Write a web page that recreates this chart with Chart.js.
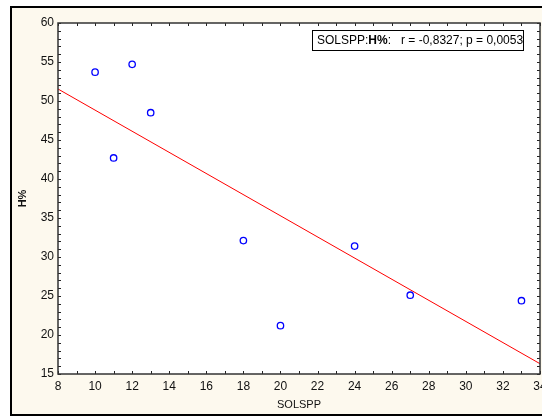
<!DOCTYPE html>
<html>
<head>
<meta charset="utf-8">
<script src="https://cdn.jsdelivr.net/npm/chart.js@4.4.1/dist/chart.umd.min.js"></script>
<style>
  html, body { margin: 0; padding: 0; background: #ffffff; }
  #wrap { width: 542px; height: 417px; }
</style>
</head>
<body>
<div id="wrap"><canvas id="c" width="542" height="417"></canvas></div>
<script>
// Observations: SOLSPP vs H%
const solspp = [10, 11, 12, 13, 18, 20, 24, 27, 33];
const hPct   = [53.7, 42.7, 54.7, 48.5, 32.1, 21.2, 31.4, 25.1, 24.4];

// Axis ranges and tick steps
const xRange = [8, 34];
const yRange = [15, 60];
const xStep = 2;
const yStep = 5;

// Correlation statistics shown in the legend box
const statLabel = ['SOLSPP:', 'H%', ':   r = -0,8327; p = 0,0053'];

// Least-squares fit of H% on SOLSPP
function linearFit(xs, ys) {
  const n = xs.length;
  const mx = xs.reduce((a, b) => a + b, 0) / n;
  const my = ys.reduce((a, b) => a + b, 0) / n;
  let sxy = 0, sxx = 0;
  for (let i = 0; i < n; i++) {
    sxy += (xs[i] - mx) * (ys[i] - my);
    sxx += (xs[i] - mx) * (xs[i] - mx);
  }
  const b = sxy / sxx;
  return { a: my - b * mx, b };
}
const fit = linearFit(solspp, hPct);
const fitLine = xRange.map(x => ({ x, y: fit.a + fit.b * x }));
const points = solspp.map((x, i) => ({ x, y: hPct[i] }));

const FONT = 'Arial, "Liberation Sans", sans-serif';
const CREAM = '#fdf9ee';

// Page background, frame and white plot area
const framePlugin = {
  id: 'frame',
  beforeDraw(chart) {
    const { ctx, chartArea: a } = chart;
    ctx.save();
    ctx.fillStyle = '#ffffff';
    ctx.fillRect(0, 0, chart.width, chart.height);
    ctx.fillStyle = CREAM;
    ctx.fillRect(11, 7, chart.width, chart.height - 9);
    ctx.strokeStyle = '#000000';
    ctx.lineWidth = 2;
    ctx.strokeRect(11, 7, chart.width + 10, chart.height - 9);
    ctx.fillStyle = '#ffffff';
    ctx.fillRect(a.left, a.top, a.right - a.left, a.bottom - a.top);
    ctx.restore();
  }
};

// Box frame around the plot with inward ticks on all four sides
const ticksPlugin = {
  id: 'inTicks',
  afterDraw(chart) {
    const { ctx, chartArea: a, scales } = chart;
    const xs = scales.x, ys = scales.y;
    const len = 3;
    ctx.save();
    ctx.strokeStyle = '#222222';
    ctx.lineWidth = 1;
    ctx.beginPath();
    for (let v = xRange[0]; v <= xRange[1]; v++) {
      const px = Math.round(xs.getPixelForValue(v)) + 0.5;
      ctx.moveTo(px, a.bottom); ctx.lineTo(px, a.bottom - len);
      ctx.moveTo(px, a.top); ctx.lineTo(px, a.top + len);
    }
    for (let v = yRange[0]; v <= yRange[1]; v++) {
      const py = Math.round(ys.getPixelForValue(v)) + 0.5;
      ctx.moveTo(a.left, py); ctx.lineTo(a.left + len, py);
      ctx.moveTo(a.right, py); ctx.lineTo(a.right - len, py);
    }
    ctx.stroke();
    ctx.lineWidth = 1.5;
    ctx.strokeStyle = '#333333';
    ctx.strokeRect(a.left, a.top, a.right - a.left, a.bottom - a.top);

    // statistics box
    const bx = a.right - 228, by = a.top + 7, bw = 211, bh = 20;
    ctx.fillStyle = '#ffffff';
    ctx.fillRect(bx, by, bw, bh);
    ctx.strokeStyle = '#000000';
    ctx.lineWidth = 1;
    ctx.strokeRect(bx + 0.5, by + 0.5, bw, bh);
    ctx.fillStyle = '#000000';
    ctx.textBaseline = 'middle';
    ctx.textAlign = 'left';
    let tx = bx + 5;
    const ty = by + bh / 2 + 1;
    ctx.font = '12px ' + FONT;
    ctx.fillText(statLabel[0], tx, ty);
    tx += ctx.measureText(statLabel[0]).width;
    ctx.font = 'bold 12px ' + FONT;
    ctx.fillText(statLabel[1], tx, ty);
    tx += ctx.measureText(statLabel[1]).width;
    ctx.font = '12px ' + FONT;
    ctx.fillText(statLabel[2], tx, ty);
    ctx.restore();
  }
};

new Chart(document.getElementById('c'), {
  type: 'scatter',
  data: {
    datasets: [
      {
        type: 'line',
        data: fitLine,
        borderColor: '#ff0000',
        borderWidth: 1,
        pointRadius: 0,
        fill: false,
        order: 2
      },
      {
        data: points,
        pointStyle: 'circle',
        pointRadius: 3.2,
        pointBorderWidth: 1.3,
        pointBorderColor: '#0000ff',
        pointBackgroundColor: 'rgba(255,255,255,0)',
        order: 1
      }
    ]
  },
  options: {
    responsive: false,
    animation: false,
    devicePixelRatio: 1,
    layout: { autoPadding: false, padding: { left: 0, right: 2, top: 23, bottom: 0 } },
    plugins: { legend: { display: false }, tooltip: { enabled: false } },
    scales: {
      x: {
        type: 'linear',
        min: xRange[0], max: xRange[1],
        grid: { display: false, drawTicks: false },
        border: { display: false },
        ticks: { stepSize: xStep, padding: 5, color: '#111111', font: { family: FONT, size: 12 }, maxRotation: 0 },
        title: { display: true, text: 'SOLSPP', color: '#111111', font: { family: FONT, size: 11 }, padding: { top: 0, bottom: 5 } },
        afterFit(s) { s.height = 43; s.paddingLeft = 0; s.paddingRight = 0; }
      },
      y: {
        type: 'linear',
        min: yRange[0], max: yRange[1],
        grid: { display: false, drawTicks: false },
        border: { display: false },
        ticks: { stepSize: yStep, padding: 4, color: '#111111', font: { family: FONT, size: 12 } },
        title: { display: true, text: 'H%', color: '#111111', font: { family: FONT, size: 11, weight: 'bold' }, padding: { top: 16, bottom: 0 } },
        afterFit(s) { s.width = 58; s.paddingTop = 0; s.paddingBottom = 0; }
      }
    }
  },
  plugins: [framePlugin, ticksPlugin]
});
</script>
</body>
</html>
